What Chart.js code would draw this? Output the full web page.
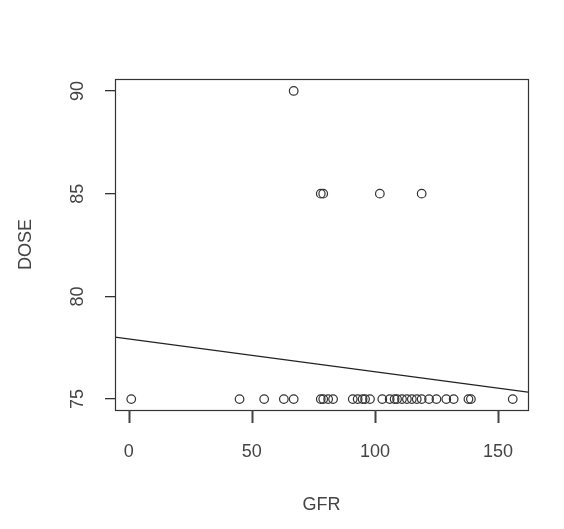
<!DOCTYPE html>
<html>
<head>
<meta charset="utf-8">
<script src="https://cdn.jsdelivr.net/npm/chart.js@4/dist/chart.umd.min.js"></script>
<style>
  html, body { margin: 0; padding: 0; background: #fff; }
  canvas { display: block; }
</style>
</head>
<body>
<canvas id="myChart" width="564" height="529"></canvas>
<script>
// GFR values of the points at each dose
const gfr75 = [1, 45, 55, 63, 67, 78, 79, 81, 83, 91, 93, 95, 96, 98, 103, 106, 108, 109, 111, 113, 115, 117, 119, 122, 125, 129, 132, 138, 139, 156];
const gfr85 = [78, 79, 102, 119];
const gfr90 = [67];

// fitted line, read at the two edges of the plot
const fitX = [-5.6, 162.2];
const fitY = [78.02, 75.34];

const xTicks = [0, 50, 100, 150];
const yTicks = [75, 80, 85, 90];

const points = []
    .concat(gfr75.map(function (g) { return { x: g, y: 75 }; }))
    .concat(gfr85.map(function (g) { return { x: g, y: 85 }; }))
    .concat(gfr90.map(function (g) { return { x: g, y: 90 }; }));

const fitLine = fitX.map(function (v, i) { return { x: v, y: fitY[i] }; });

// box round the plot region, and the outward tick marks of the x axis
const boxPlugin = {
    id: 'box',
    afterDraw(chart) {
        const a = chart.chartArea;
        const ctx = chart.ctx;
        const xs = chart.scales.x;
        ctx.save();
        ctx.strokeStyle = '#333';
        ctx.lineWidth = 1.2;
        ctx.strokeRect(Math.round(a.left) + 0.5, Math.round(a.top) + 0.5,
            Math.round(a.right - a.left), Math.round(a.bottom - a.top));
        ctx.fillStyle = '#444';
        for (let i = 0; i < xTicks.length; i++) {
            const px = Math.round(xs.getPixelForValue(xTicks[i]));
            ctx.fillRect(px - 0.5, Math.round(a.bottom), 2, 13);
        }
        ctx.restore();
    }
};

const font = { family: 'Liberation Sans, Arial, sans-serif', size: 18 };

new Chart(document.getElementById('myChart'), {
    type: 'scatter',
    data: {
        datasets: [{
            data: points,
            pointStyle: 'circle',
            pointRadius: 4.3,
            pointHoverRadius: 4.3,
            backgroundColor: 'rgba(0,0,0,0)',
            borderColor: '#333',
            borderWidth: 1.2
        }, {
            type: 'line',
            data: fitLine,
            borderColor: '#222',
            borderWidth: 1.3,
            pointRadius: 0,
            fill: false
        }]
    },
    options: {
        responsive: false,
        animation: false,
        events: [],
        layout: { padding: { top: 79, right: 36, left: 0, bottom: 0 } },
        plugins: {
            legend: { display: false },
            tooltip: { enabled: false }
        },
        scales: {
            x: {
                type: 'linear',
                min: -5.6,
                max: 162.2,
                afterBuildTicks: function (s) { s.ticks = xTicks.map(function (v) { return { value: v }; }); },
                afterFit: function (s) { s.height = 119; },
                grid: { display: false },
                border: { display: false },
                ticks: { color: '#444', font: font, padding: 23, maxRotation: 0 },
                title: { display: true, text: 'GFR', color: '#444', font: font, padding: { top: 0, bottom: 13 } }
            },
            y: {
                type: 'linear',
                min: 74.47,
                max: 90.58,
                afterBuildTicks: function (s) { s.ticks = yTicks.map(function (v) { return { value: v }; }); },
                afterFit: function (s) { s.width = 115; },
                grid: { drawOnChartArea: false, drawTicks: true, color: '#333', tickColor: '#333', tickWidth: 1.3, tickLength: 10, lineWidth: 1.3 },
                border: { display: false },
                ticks: { color: '#444', font: font, padding: 17, minRotation: 90, maxRotation: 90, crossAlign: 'center' },
                title: { display: true, text: 'DOSE', color: '#444', font: font, padding: { top: 15, bottom: 0 } }
            }
        }
    },
    plugins: [boxPlugin]
});
</script>
</body>
</html>
